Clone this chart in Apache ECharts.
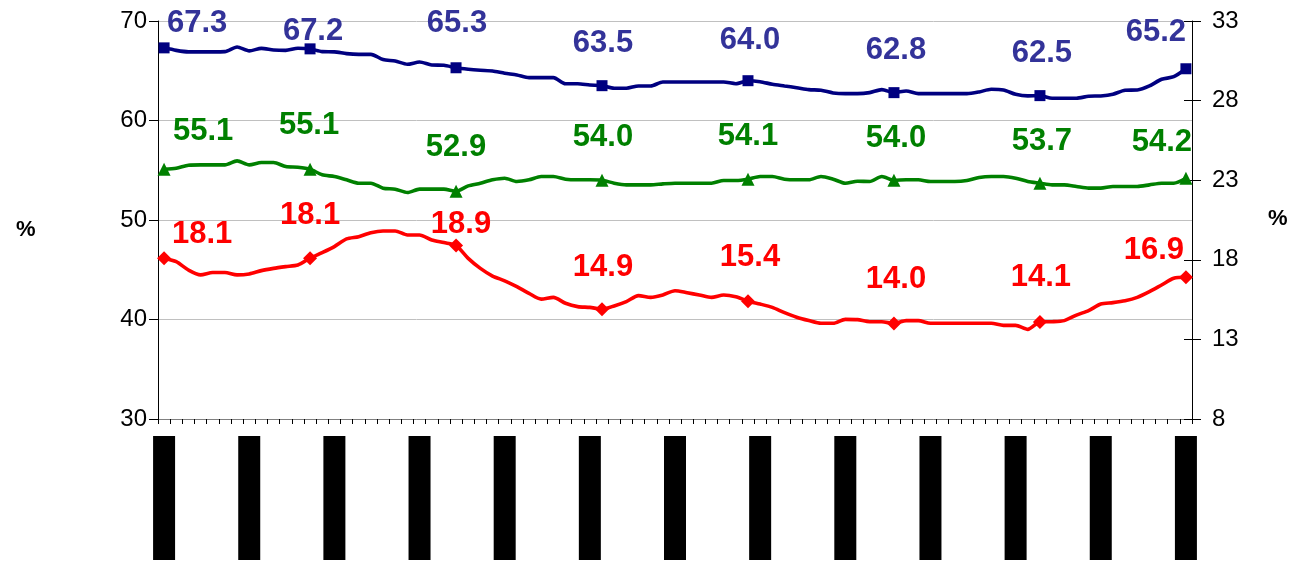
<!DOCTYPE html>
<html>
<head>
<meta charset="utf-8">
<script src="https://cdn.jsdelivr.net/npm/echarts@6/dist/echarts.min.js"></script>
<style>
html,body{margin:0;padding:0;background:#fff;}
#chart{width:1302px;height:569px;}
</style>
</head>
<body>
<div id="chart"></div>
<script>
// ---- data ----
const categories = [
'01.2001','02.2001','03.2001','04.2001','05.2001','06.2001','07.2001','08.2001','09.2001','10.2001','11.2001','12.2001',
'01.2002','02.2002','03.2002','04.2002','05.2002','06.2002','07.2002','08.2002','09.2002','10.2002','11.2002','12.2002',
'01.2003','02.2003','03.2003','04.2003','05.2003','06.2003','07.2003','08.2003','09.2003','10.2003','11.2003','12.2003',
'01.2004','02.2004','03.2004','04.2004','05.2004','06.2004','07.2004','08.2004','09.2004','10.2004','11.2004','12.2004',
'01.2005','02.2005','03.2005','04.2005','05.2005','06.2005','07.2005','08.2005','09.2005','10.2005','11.2005','12.2005',
'01.2006','02.2006','03.2006','04.2006','05.2006','06.2006','07.2006','08.2006','09.2006','10.2006','11.2006','12.2006',
'01.2007','02.2007','03.2007','04.2007','05.2007','06.2007','07.2007','08.2007','09.2007','10.2007','11.2007','12.2007',
'01.2008'
];
// left axis (%)
const blueValues = [
67.3,67.05,66.9,66.9,66.9,66.92,67.39,67.0,67.25,67.09,67.05,67.26,
67.2,66.92,66.9,66.72,66.65,66.65,66.12,65.98,65.65,65.88,65.58,65.55,
65.3,65.15,65.05,64.98,64.75,64.58,64.31,64.31,64.31,63.7,63.7,63.57,
63.5,63.24,63.24,63.47,63.47,63.87,63.87,63.87,63.87,63.87,63.87,63.7,
64.0,63.9,63.64,63.47,63.3,63.1,63.04,62.77,62.7,62.7,62.8,63.1,
62.8,62.97,62.7,62.7,62.7,62.7,62.7,62.87,63.14,63.07,62.64,62.47,
62.5,62.24,62.24,62.24,62.44,62.47,62.64,63.04,63.07,63.47,64.14,64.4,
65.2
];
const greenValues = [
55.1,55.2,55.5,55.54,55.54,55.54,55.94,55.54,55.78,55.78,55.37,55.3,
55.1,54.54,54.37,54.04,53.7,53.7,53.2,53.1,52.76,53.1,53.1,53.1,
52.9,53.43,53.7,54.04,54.2,53.87,54.04,54.37,54.37,54.1,54.04,54.04,
54.0,53.7,53.53,53.53,53.53,53.63,53.7,53.7,53.7,53.7,53.97,53.97,
54.1,54.37,54.37,54.1,54.04,54.04,54.37,54.1,53.7,53.9,53.87,54.37,
54.0,54.04,54.04,53.87,53.87,53.87,53.97,54.27,54.37,54.37,54.2,53.87,
53.7,53.53,53.53,53.37,53.2,53.2,53.37,53.37,53.37,53.53,53.7,53.7,
54.2
];
// right axis (%)
const redValues = [
18.1,17.88,17.36,17.05,17.2,17.2,17.05,17.11,17.32,17.46,17.57,17.67,
18.1,18.45,18.83,19.31,19.45,19.7,19.81,19.81,19.56,19.56,19.24,19.08,
18.9,18.09,17.46,16.98,16.68,16.31,15.89,15.53,15.64,15.27,15.06,15.01,
14.9,15.1,15.37,15.75,15.64,15.79,16.06,15.93,15.79,15.64,15.79,15.68,
15.4,15.22,15.01,14.68,14.39,14.18,14.01,14.01,14.26,14.24,14.11,14.11,
14.0,14.18,14.18,14.01,14.01,14.01,14.01,14.01,14.01,13.88,13.88,13.63,
14.1,14.11,14.18,14.53,14.81,15.22,15.31,15.43,15.64,16.0,16.42,16.84,
16.9
];
const leftTicks = {min:30, max:70, interval:10};
const rightTicks = {min:8, max:33, interval:5};
const markerEvery = 12;

// ---- label placement (offsets from point) ----
const blueOffsets  = [[33,-24],[3,-17],[1,-44],[1,-42],[2,-40],[2,-42],[2,-42],[-30,-36]];
const greenOffsets = [[39,-38],[-1,-44],[0,-44],[1,-43],[0,-43],[2,-42],[2,-42],[-24,-36]];
const redOffsets   = [[38,-24],[0,-43],[5,-21],[1,-42],[2,-44],[2,-44],[1,-44],[-32,-27]];

const FONT = 'Liberation Sans, Arial, sans-serif';

function build(vals, symbol, size, offsets) {
  return vals.map((v, i) => {
    if (i % markerEvery === 0) {
      return {value: v, symbol: symbol, symbolSize: size,
              label: {show: true, position: 'inside', offset: offsets[i / markerEvery]}};
    }
    return {value: v, symbol: 'none', label: {show: false}};
  });
}

function lineSeries(name, vals, yIdx, lineColor, textColor, symbol, size, offsets) {
  return {
    name: name, type: 'line', yAxisIndex: yIdx,
    data: build(vals, symbol, size, offsets),
    smooth: 0.25,
    showSymbol: true,
    showAllSymbol: true,
    lineStyle: {color: lineColor, width: 3.6},
    itemStyle: {color: lineColor},
    label: {
      show: false, position: 'inside',
      color: textColor, fontFamily: FONT, fontWeight: 'bold', fontSize: 31,
      formatter: p => Number(p.value).toFixed(1)
    },
    emphasis: {disabled: true},
    z: 3
  };
}

const chart = echarts.init(document.getElementById('chart'), null, {renderer: 'canvas'});
chart.setOption({
  animation: false,
  backgroundColor: '#fff',
  grid: {left: 158, right: 110, top: 21, bottom: 150, containLabel: false},
  xAxis: {
    type: 'category', data: categories, boundaryGap: true,
    axisLine: {show: true, lineStyle: {color: '#808080', width: 1}},
    axisTick: {show: true, interval: 0, length: 5, lineStyle: {color: '#000'}},
    axisLabel: {
      interval: 6, rotate: 90, margin: 17,
      formatter: v => '{b|' + v + '}',
      rich: {
        b: {width: 124, height: 22, lineHeight: 22, align: 'right',
            color: '#000', backgroundColor: '#000', fontFamily: FONT, fontSize: 20}
      }
    },
    splitLine: {show: false}
  },
  yAxis: [
    {
      type: 'value', position: 'left',
      min: leftTicks.min, max: leftTicks.max, interval: leftTicks.interval,
      axisLine: {show: true, lineStyle: {color: '#000', width: 1}},
      axisTick: {show: true, length: 9, lineStyle: {color: '#000'}},
      axisLabel: {color: '#000', fontFamily: FONT, fontSize: 24, margin: 11},
      splitLine: {show: true, lineStyle: {color: '#c0c0c0', width: 1}}
    },
    {
      type: 'value', position: 'right',
      min: rightTicks.min, max: rightTicks.max, interval: rightTicks.interval,
      axisLine: {show: true, lineStyle: {color: '#000', width: 1}},
      axisTick: {show: true, length: 9, lineStyle: {color: '#000'}},
      axisLabel: {color: '#000', fontFamily: FONT, fontSize: 24, margin: 20},
      splitLine: {show: false}
    },
    {
      type: 'value', position: 'right', offset: 0,
      min: rightTicks.min, max: rightTicks.max, interval: rightTicks.interval,
      axisLine: {show: false},
      axisTick: {show: true, inside: true, length: 8, lineStyle: {color: '#000'}},
      axisLabel: {show: false},
      splitLine: {show: false}
    }
  ],
  graphic: [
    {type: 'text', left: 16, top: 219, style: {text: '%', fill: '#000', font: 'bold 22px ' + FONT}},
    {type: 'text', left: 1268, top: 208, style: {text: '%', fill: '#000', font: 'bold 22px ' + FONT}}
  ],
  series: [
    lineSeries('blue', blueValues, 0, '#000080', '#333399', 'rect', 11, blueOffsets),
    lineSeries('green', greenValues, 0, '#008000', '#008000', 'triangle', 13, greenOffsets),
    lineSeries('red', redValues, 1, '#ff0000', '#ff0000', 'diamond', 14, redOffsets)
  ]
});
</script>
</body>
</html>
